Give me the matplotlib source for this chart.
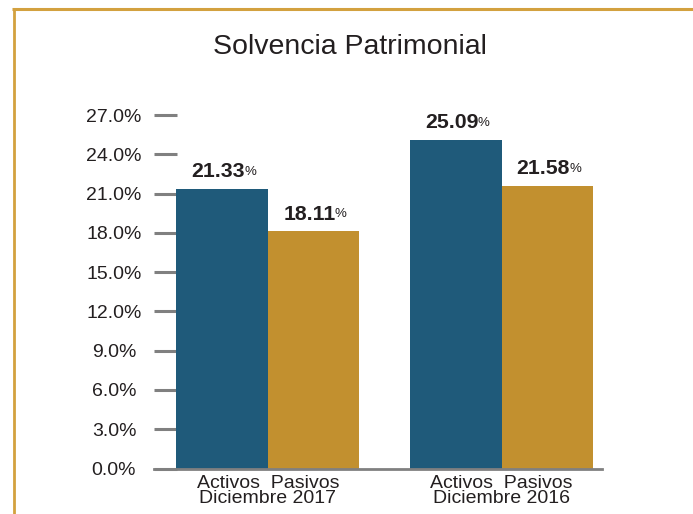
import matplotlib
matplotlib.use("Agg")
import matplotlib.pyplot as plt
from matplotlib.lines import Line2D

# ---- data ----
title = "Solvencia Patrimonial"
periods = ["Diciembre 2017", "Diciembre 2016"]
series = ["Activos", "Pasivos"]
activos = [21.33, 25.09]
pasivos = [18.11, 21.58]
yticks = [0, 3, 6, 9, 12, 15, 18, 21, 24, 27]
ytick_labels = ["0.0%", "3.0%", "6.0%", "9.0%", "12.0%", "15.0%", "18.0%", "21.0%", "24.0%", "27.0%"]

# ---- style ----
BLUE = "#1f5a7a"
GOLD = "#c2902f"
FRAME = "#d3a13f"
TXT = "#231f20"
GRAY = "#808080"
FONT = ["Liberation Sans", "DejaVu Sans"]
plt.rcParams["font.family"] = FONT

fig = plt.figure(figsize=(6.93, 5.14), dpi=100)
fig.patch.set_facecolor("white")

# frame (top and left lines)
fig.add_artist(Line2D([12.5 / 693, 1.0], [1 - 8.8 / 514, 1 - 8.8 / 514],
                      transform=fig.transFigure, color=FRAME, lw=2.2, solid_capstyle="butt"))
fig.add_artist(Line2D([14 / 693, 14 / 693], [0, 1 - 7.5 / 514],
                      transform=fig.transFigure, color=FRAME, lw=2.0, solid_capstyle="butt"))

fig.text(350 / 693, 1 - 54 / 514, title, ha="center", va="baseline",
         fontsize=20.5, color=TXT)

ax = fig.add_axes([154 / 693, 45.5 / 514, 448 / 693, 353.5 / 514])

group_gap = 2.555
width = 1.0
x_act = [i * group_gap for i in range(len(periods))]
x_pas = [i * group_gap + 1 for i in range(len(periods))]

ax.bar(x_act, activos, width=width, color=BLUE, align="center", zorder=2)
ax.bar(x_pas, pasivos, width=width, color=GOLD, align="center", zorder=2)

ax.set_xlim(-0.745, -0.745 + 448 / 91.5)
ax.set_ylim(0, 27)

for s in ["top", "right", "left"]:
    ax.spines[s].set_visible(False)
ax.spines["bottom"].set_color(GRAY)
ax.spines["bottom"].set_linewidth(2.0)
ax.spines["bottom"].set_zorder(3)

ax.set_yticks(yticks)
ax.set_yticklabels(ytick_labels)
ax.tick_params(axis="y", direction="in", length=16.5, width=2.2, color=GRAY,
               pad=28.8, labelsize=14, labelcolor=TXT)
for lab in ax.get_yticklabels():
    lab.set_horizontalalignment("center")

centers = [(a + p) / 2 for a, p in zip(x_act, x_pas)]
ax.set_xticks(centers)
ax.set_xticklabels([f"{series[0]}  {series[1]}\n{p}" for p in periods],
                   linespacing=0.88)
ax.tick_params(axis="x", length=0, pad=4.5, labelsize=14, labelcolor=TXT)

# value labels
def label(x, v):
    t = ax.annotate(f"{v:.2f}", xy=(x, v), xytext=(-3, 8.5), textcoords="offset points",
                    ha="center", va="baseline", fontsize=15.3, color=TXT,
                    fontweight="bold", family=FONT)
    ax.annotate("%", xy=(1, 0.8), xycoords=t, xytext=(-0.5, 0), textcoords="offset points",
                ha="left", va="top", fontsize=9.5, color=TXT, family=FONT)

for x, v in zip(x_act, activos):
    label(x, v)
for x, v in zip(x_pas, pasivos):
    label(x, v)

fig.savefig("out.png", dpi=100, facecolor="white")
